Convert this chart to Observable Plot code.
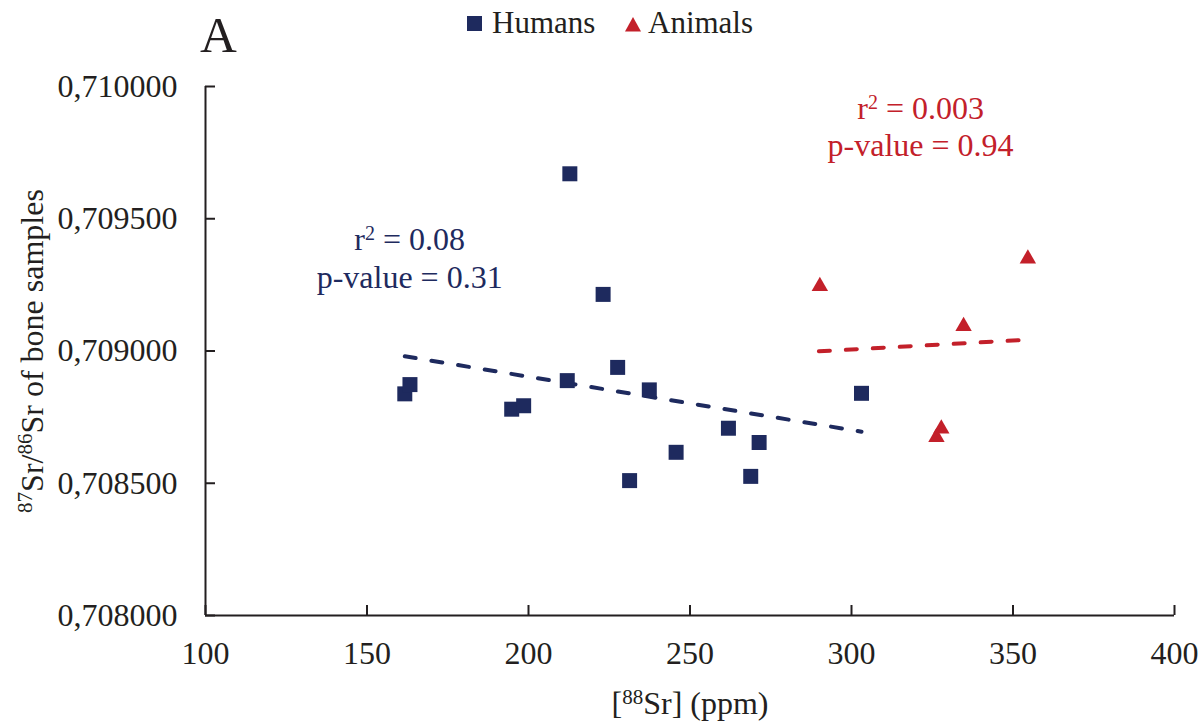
<!DOCTYPE html>
<html><head><meta charset="utf-8">
<script src="https://cdn.jsdelivr.net/npm/d3@7"></script>
<script src="https://cdn.jsdelivr.net/npm/@observablehq/plot@0.6"></script>
<style>
body{margin:0;background:#fff;font-family:"Liberation Serif","Times New Roman",serif;color:#231f20;}
#wrap{position:relative;width:1200px;}
#head{position:relative;height:45px;}
#panel{position:absolute;left:200px;top:10px;font-size:51px;line-height:51px;}
.lg{position:absolute;font-size:31px;line-height:31px;top:7px;white-space:nowrap;}
.sym{position:absolute;}
</style>
</head><body>
<div id="wrap">
  <div id="head">
    <div id="panel">A</div>
    <svg class="sym" style="left:467px;top:16px" width="15" height="15"><rect width="15" height="15" fill="#1e2a5e"/></svg>
    <div class="lg" style="left:492px">Humans</div>
    <svg class="sym" style="left:625px;top:17px" width="16" height="15"><path d="M8,0L16,14.5L0,14.5Z" fill="#c3202a"/></svg>
    <div class="lg" style="left:648px">Animals</div>
  </div>
  <div id="chart"></div>
</div>
<script>
const navy = "#1e2a5e";
const red = "#c3202a";
const ink = "#231f20";

// Humans
const humansX = [161.7, 163.3, 194.8, 198.5, 212.0, 212.8, 223.1, 227.6, 231.3, 237.4, 245.7, 261.9, 268.8, 271.4, 303.1];
const humansY = [0.708838, 0.708873, 0.708780, 0.708793, 0.708888, 0.709670, 0.709214, 0.708938, 0.708510, 0.708853, 0.708617, 0.708708, 0.708526, 0.708654, 0.708840];
// Animals
const animalsX = [290.2, 326.3, 327.8, 334.7, 354.6];
const animalsY = [0.709245, 0.708674, 0.708706, 0.709094, 0.709349];
// Trend lines (read endpoints)
const humanFitX = [161.7, 303.1];
const humanFitY = [0.708980, 0.708695];
const animalFitX = [289.9, 354.9];
const animalFitY = [0.708999, 0.709043];
// Ticks
const xTicks = [100, 150, 200, 250, 300, 350, 400];
const yTicks = [0.708, 0.7085, 0.709, 0.7095, 0.71];
// Annotations
const humanStatX = [163.2];
const humanStatY1 = [0.709380];
const humanStatY2 = [0.709240];
const humanStatR2 = "0.08";
const humanStatP = "0.31";
const animalStatX = [321.4];
const animalStatY1 = [0.709879];
const animalStatY2 = [0.709739];
const animalStatR2 = "0.003";
const animalStatP = "0.94";
// Labels
const yLabelParts = [["87", true], ["Sr/", false], ["86", true], ["Sr of bone samples", false]];
const xLabelParts = [["[", false], ["88", true], ["Sr] (ppm)", false]];

const humans = humansX.map((x, i) => ({x, y: humansY[i]}));
const animals = animalsX.map((x, i) => ({x, y: animalsY[i]}));
const humanFit = humanFitX.map((x, i) => ({x, y: humanFitY[i]}));
const animalFit = animalFitX.map((x, i) => ({x, y: animalFitY[i]}));
const plain = parts => parts.map(p => p[0]).join("");
const r2Parts = v => [["r", false], ["2", true], [" = " + v, false]];

const hStat1 = [{x: humanStatX[0], y: humanStatY1[0], t: plain(r2Parts(humanStatR2))}];
const hStat2 = [{x: humanStatX[0], y: humanStatY2[0], t: "p-value = " + humanStatP}];
const aStat1 = [{x: animalStatX[0], y: animalStatY1[0], t: plain(r2Parts(animalStatR2))}];
const aStat2 = [{x: animalStatX[0], y: animalStatY2[0], t: "p-value = " + animalStatP}];

const plot = Plot.plot({
  width: 1200, height: 679,
  marginTop: 41, marginBottom: 109, marginLeft: 205, marginRight: 26,
  style: {fontFamily: '"Liberation Serif","Times New Roman",serif', fontSize: "32px", color: ink, background: "#fff"},
  x: {domain: [100, 400]},
  y: {domain: [0.708, 0.71]},
  marks: [
    Plot.axisX({ticks: xTicks, tickSize: -10, tickPadding: 36, fontSize: 32, label: null, strokeWidth: 2, stroke: ink, fill: ink, tickFormat: d => String(d)}),
    Plot.axisY({ticks: yTicks, tickSize: -10, tickPadding: 38, fontSize: 32, label: null, strokeWidth: 2, stroke: ink, fill: ink, tickFormat: d => d.toFixed(6).replace(".", ",")}),
    Plot.ruleY([0.708], {stroke: ink, strokeWidth: 2}),
    Plot.ruleX([100], {stroke: ink, strokeWidth: 2}),
    Plot.line(humanFit, {x: "x", y: "y", stroke: navy, strokeWidth: 4, strokeDasharray: "11,16", strokeLinecap: "round"}),
    Plot.line(animalFit, {x: "x", y: "y", stroke: red, strokeWidth: 4, strokeDasharray: "11,16", strokeLinecap: "round"}),
    Plot.dot(humans, {x: "x", y: "y", symbol: d3.symbolSquare, r: 8.46, fill: navy, stroke: "none"}),
    Plot.dot(animals, {x: "x", y: "y", symbol: d3.symbolTriangle, r: 6.1, fill: red, stroke: "none"}),
    Plot.text(hStat1, {x: "x", y: "y", text: "t", fill: navy, fontSize: 32, textAnchor: "middle", lineAnchor: "bottom"}),
    Plot.text(hStat2, {x: "x", y: "y", text: "t", fill: navy, fontSize: 32, textAnchor: "middle", lineAnchor: "bottom"}),
    Plot.text(aStat1, {x: "x", y: "y", text: "t", fill: red, fontSize: 32, textAnchor: "middle", lineAnchor: "bottom"}),
    Plot.text(aStat2, {x: "x", y: "y", text: "t", fill: red, fontSize: 32, textAnchor: "middle", lineAnchor: "bottom"}),
    Plot.text([plain(yLabelParts)], {text: d => d, frameAnchor: "left", rotate: -90, dx: -163, textAnchor: "middle", lineAnchor: "bottom", fontSize: 32, fill: ink}),
    Plot.text([plain(xLabelParts)], {text: d => d, frameAnchor: "bottom", dy: 98, textAnchor: "middle", lineAnchor: "bottom", fontSize: 32, fill: ink})
  ]
});
document.getElementById("chart").appendChild(plot);

function rich(svg, parts, supSize, raise) {
  const txt = plain(parts);
  d3.select(svg).selectAll("text").filter(function() { return this.textContent === txt; }).each(function() {
    const t = d3.select(this);
    t.text(null);
    let prevSup = false;
    parts.forEach(([s, sup]) => {
      const ts = t.append("tspan").text(s);
      if (sup) ts.attr("font-size", supSize).attr("dy", -raise);
      else if (prevSup) ts.attr("dy", raise);
      prevSup = sup;
    });
  });
}
rich(plot, yLabelParts, 21, 11);
rich(plot, xLabelParts, 21, 10);
rich(plot, r2Parts(humanStatR2), 20, 10);
rich(plot, r2Parts(animalStatR2), 20, 10);
</script>
</body></html>
